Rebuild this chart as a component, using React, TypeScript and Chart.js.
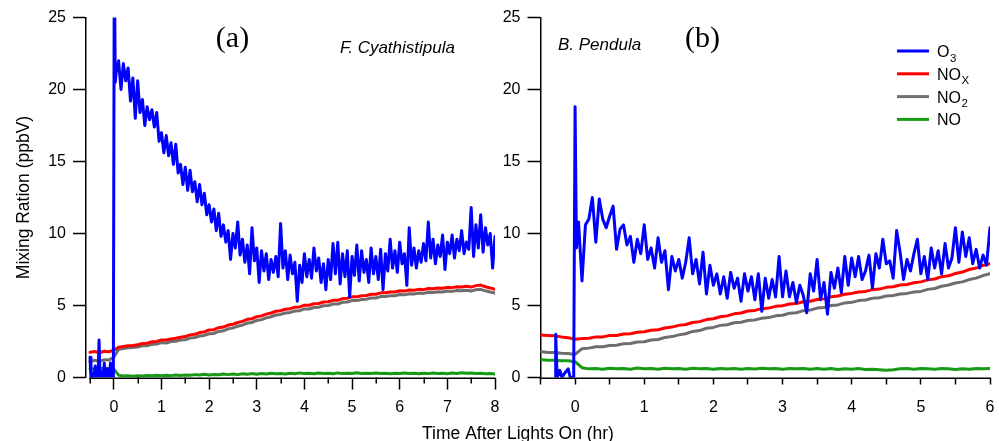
import React, { useEffect, useRef } from "react";
import { Chart, registerables } from "chart.js";

Chart.register(...registerables);

const FONT = "'Liberation Sans', Arial, Helvetica, sans-serif";
const SERIF = "'Liberation Serif', 'Times New Roman', Times, serif";

const COLOR_O3 = "#0000FF";
const COLOR_NOX = "#FF0000";
const COLOR_NO2 = "#6E6E6E";
const COLOR_NO = "#179B17";

// ---------- axis ticks ----------
const Y_TICKS = [0, 5, 10, 15, 20, 25];
const A_X_TICK_LABELS = [0, 1, 2, 3, 4, 5, 6, 7, 8];
const B_X_TICK_LABELS = [0, 1, 2, 3, 4, 5, 6];

// ---------- panel (a): F. Cyathistipula ----------
const A_O3_PRE_T = [-0.5, -0.48, -0.45, -0.42, -0.39, -0.36, -0.33, -0.31, -0.29, -0.25, -0.22, -0.2, -0.17, -0.13, -0.1, -0.07, -0.04, -0.01, 0.01, 0.03];
const A_O3_PRE = [1.4, 0, 0.3, 0, 0.8, 0, 0.2, 2.6, 0, 0.4, 0, 1.0, 0, 0.6, 0, 1.0, 0, 0, 30, 20.5];
const A_O3_START = 0.05;
const A_O3 = [
  21.2, 22.0, 20.0, 21.8, 20.6, 21.5, 19.2, 20.8, 18.0, 20.6, 18.4, 19.3, 17.5, 18.8, 17.9, 18.6, 17.4, 18.4, 16.4, 17.0,
  15.6, 16.8, 15.4, 16.3, 14.8, 16.2, 14.2, 14.8, 13.4, 14.6, 13.0, 14.4, 12.9, 13.6, 12.2, 13.4, 12.0, 12.8, 11.3, 12.0,
  10.8, 11.7, 10.2, 11.4, 9.8, 10.6, 9.4, 10.2, 8.2, 10.0, 9.0, 10.8, 8.5, 9.6, 8.0, 9.2, 7.2, 10.4, 8.1, 9.0,
  6.6, 8.8, 7.4, 8.6, 6.8, 8.2, 7.3, 8.4, 7.0, 10.7, 7.6, 8.8, 6.8, 8.5, 7.2, 8.0, 5.3, 7.8, 6.6, 8.6,
  7.0, 8.2, 6.9, 9.0, 7.4, 8.3, 6.6, 7.9, 6.1, 8.2, 6.8, 9.3, 7.2, 9.4, 6.5, 8.6, 7.0, 8.8, 5.6, 8.4,
  7.1, 9.2, 6.7, 8.8, 7.3, 8.2, 6.6, 9.0, 7.2, 8.4, 6.8, 8.9, 6.1, 8.6, 7.4, 9.6, 7.6, 8.8, 7.3, 9.4,
  7.9, 8.6, 6.4, 10.4, 7.8, 9.0, 7.6, 8.8, 8.0, 9.3, 8.1, 10.8, 8.3, 9.6, 7.9, 9.2, 8.4, 9.9, 7.5, 9.4,
  8.6, 9.9, 8.3, 9.6, 8.8, 10.2, 8.6, 9.4, 8.9, 11.8, 8.4, 10.6, 9.0, 11.3, 8.7, 10.4, 9.2, 10.0, 7.6, 9.8,
];
const A_N_START = -0.5;
const A_NOX = [
  1.75, 1.80, 1.72, 1.82, 1.79, 1.90, 2.10, 2.16, 2.20, 2.22,
  2.28, 2.36, 2.38, 2.48, 2.50, 2.60, 2.60, 2.68, 2.72, 2.80,
  2.84, 2.96, 3.00, 3.12, 3.16, 3.30, 3.32, 3.46, 3.50, 3.64,
  3.70, 3.82, 3.90, 4.04, 4.08, 4.22, 4.28, 4.40, 4.48, 4.60,
  4.64, 4.74, 4.78, 4.88, 4.90, 5.02, 5.02, 5.12, 5.14, 5.24,
  5.26, 5.36, 5.36, 5.48, 5.50, 5.60, 5.60, 5.68, 5.70, 5.78,
  5.78, 5.88, 5.88, 5.94, 5.94, 6.02, 6.00, 6.08, 6.06, 6.12,
  6.10, 6.18, 6.16, 6.22, 6.20, 6.26, 6.24, 6.30, 6.28, 6.34,
  6.28, 6.38, 6.42, 6.30, 6.22, 6.12,
];
const A_NO2 = [
  1.10, 1.20, 1.12, 1.24, 1.22, 1.40, 1.94, 2.02, 2.06, 2.08,
  2.12, 2.20, 2.20, 2.30, 2.32, 2.42, 2.40, 2.50, 2.52, 2.60,
  2.62, 2.74, 2.78, 2.88, 2.92, 3.04, 3.06, 3.20, 3.24, 3.38,
  3.44, 3.56, 3.64, 3.78, 3.82, 3.96, 4.02, 4.14, 4.22, 4.34,
  4.38, 4.48, 4.52, 4.62, 4.64, 4.76, 4.76, 4.86, 4.88, 4.98,
  5.00, 5.10, 5.10, 5.22, 5.24, 5.34, 5.34, 5.42, 5.44, 5.52,
  5.52, 5.62, 5.62, 5.68, 5.68, 5.76, 5.74, 5.82, 5.80, 5.86,
  5.84, 5.92, 5.90, 5.96, 5.94, 6.00, 5.98, 6.04, 6.02, 6.06,
  6.00, 6.10, 6.12, 6.02, 5.94, 5.86,
];
const A_NO = [
  0.62, 0.58, 0.66, 0.60, 0.64, 0.58, 0.16, 0.10, 0.12, 0.08,
  0.12, 0.10, 0.14, 0.12, 0.16, 0.12, 0.15, 0.13, 0.17, 0.14,
  0.18, 0.15, 0.20, 0.17, 0.22, 0.18, 0.21, 0.19, 0.24, 0.20,
  0.24, 0.20, 0.26, 0.22, 0.27, 0.23, 0.28, 0.24, 0.30, 0.26,
  0.28, 0.24, 0.30, 0.26, 0.32, 0.27, 0.30, 0.26, 0.31, 0.28,
  0.30, 0.26, 0.32, 0.27, 0.30, 0.28, 0.33, 0.27, 0.30, 0.28,
  0.31, 0.27, 0.30, 0.26, 0.29, 0.27, 0.31, 0.28, 0.30, 0.26,
  0.29, 0.27, 0.32, 0.28, 0.30, 0.26, 0.31, 0.28, 0.33, 0.29,
  0.31, 0.27, 0.30, 0.26, 0.28, 0.25,
];

// ---------- panel (b): B. Pendula ----------
const B_O3_PRE_T = [-0.5, -0.29, -0.28, -0.26, -0.22, -0.19, -0.15, -0.1, -0.07, -0.02, 0.0, 0.02];
const B_O3_PRE = [-1, -1, 3.0, 0, 0.5, 0, 0.3, 0.6, 0, 0, 18.8, 9.0];
const B_O3_START = 0.05;
const B_O3 = [
  10.8, 6.7, 10.6, 11.0, 12.5, 9.4, 12.4, 11.0, 10.4, 11.2, 11.9, 8.9, 10.3, 10.6, 9.2, 9.8, 8.0, 9.6, 8.6, 10.6,
  8.2, 9.0, 7.6, 9.7, 8.0, 8.8, 6.1, 8.4, 7.4, 8.2, 6.9, 8.0, 9.7, 7.2, 8.2, 6.5, 8.7, 5.8, 7.8, 6.4,
  7.2, 5.8, 7.0, 5.5, 7.3, 6.2, 6.9, 5.3, 7.2, 6.0, 7.0, 5.4, 7.2, 4.6, 6.9, 5.5, 6.8, 5.6, 8.4, 5.6,
  7.4, 5.6, 6.6, 5.2, 6.4, 5.7, 4.5, 7.2, 6.0, 8.2, 5.4, 6.6, 4.4, 7.3, 6.2, 7.6, 5.9, 8.4, 6.4, 8.3,
  7.0, 8.4, 6.8, 7.4, 8.5, 6.2, 8.6, 7.6, 9.6, 7.9, 8.1, 6.9, 10.2, 8.7, 6.8, 8.2, 7.4, 8.6, 9.6, 7.2,
  8.4, 6.8, 9.0, 7.6, 8.8, 7.2, 9.3, 7.6, 8.3, 10.4, 8.0, 10.1, 8.4, 9.7, 7.9, 8.9, 7.6, 8.5, 7.8, 10.4,
];
const B_N_START = -0.5;
const B_NOX = [
  2.95, 2.92, 2.90, 2.82, 2.76, 2.66, 2.70, 2.72, 2.82, 2.82,
  2.92, 2.92, 3.02, 3.04, 3.14, 3.18, 3.28, 3.32, 3.44, 3.50,
  3.62, 3.68, 3.82, 3.88, 4.02, 4.08, 4.22, 4.28, 4.42, 4.48,
  4.62, 4.66, 4.78, 4.82, 4.94, 4.98, 5.10, 5.14, 5.26, 5.30,
  5.42, 5.46, 5.60, 5.66, 5.78, 5.84, 5.94, 5.98, 6.10, 6.14,
  6.26, 6.30, 6.42, 6.46, 6.58, 6.64, 6.78, 6.84, 7.00, 7.06,
  7.22, 7.32, 7.50, 7.60, 7.78, 7.90,
];
const B_NO2 = [
  1.80, 1.74, 1.74, 1.68, 1.66, 1.60, 2.00, 2.04, 2.14, 2.14,
  2.22, 2.24, 2.34, 2.36, 2.46, 2.48, 2.60, 2.64, 2.78, 2.84,
  2.96, 3.04, 3.20, 3.26, 3.42, 3.48, 3.62, 3.66, 3.80, 3.84,
  3.96, 4.00, 4.12, 4.16, 4.28, 4.32, 4.46, 4.50, 4.64, 4.68,
  4.82, 4.86, 5.00, 5.04, 5.18, 5.22, 5.34, 5.38, 5.50, 5.54,
  5.66, 5.70, 5.80, 5.84, 5.94, 5.98, 6.12, 6.18, 6.34, 6.42,
  6.56, 6.64, 6.80, 6.90, 7.08, 7.20,
];
const B_NO = [
  1.25, 1.20, 1.20, 1.16, 1.16, 1.10, 0.68, 0.60, 0.62, 0.58,
  0.64, 0.60, 0.62, 0.58, 0.66, 0.60, 0.62, 0.58, 0.64, 0.60,
  0.62, 0.58, 0.64, 0.60, 0.62, 0.58, 0.63, 0.59, 0.62, 0.58,
  0.62, 0.59, 0.64, 0.60, 0.62, 0.58, 0.62, 0.60, 0.63, 0.58,
  0.62, 0.58, 0.62, 0.56, 0.60, 0.58, 0.62, 0.56, 0.58, 0.54,
  0.50, 0.54, 0.60, 0.62, 0.58, 0.62, 0.60, 0.58, 0.62, 0.60,
  0.56, 0.60, 0.58, 0.62, 0.60, 0.62,
];

const FINE_STEP = 0.05;
const COARSE_STEP = 0.1;

// ---------- texts ----------
const Y_TITLE = "Mixing Ration (ppbV)";
const X_TITLE = "Time After Lights On (hr)";
const A_TAG = "(a)";
const B_TAG = "(b)";
const A_NAME = "F. Cyathistipula";
const B_NAME = "B. Pendula";
const LEGEND_ITEMS = [
  { base: "O", sub: "3", color: COLOR_O3 },
  { base: "NO", sub: "X", color: COLOR_NOX },
  { base: "NO", sub: "2", color: COLOR_NO2 },
  { base: "NO", sub: "", color: COLOR_NO },
];

type Pt = { x: number; y: number };
const seq = (start: number, step: number, vals: number[]): Pt[] =>
  vals.map((y, i) => ({ x: Math.round((start + i * step) * 1000) / 1000, y }));
const pairs = (ts: number[], vs: number[]): Pt[] => ts.map((x, i) => ({ x, y: vs[i] }));

function lineDs(label: string, data: Pt[], color: string, width: number) {
  return {
    label,
    data,
    borderColor: color,
    backgroundColor: color,
    borderWidth: width,
    pointRadius: 0,
    pointHoverRadius: 0,
    tension: 0,
    fill: false,
    borderJoinStyle: "round" as const,
    borderCapStyle: "round" as const,
  };
}

type PanelOpts = {
  xMin: number;
  xMax: number;
  tickMin: number;
  labels: number[];
  yWidth: number;
  padRight: number;
  majorLen: number;
  minorLen: number;
  labelPad: number;
  extra: (chart: any) => void;
};

function buildConfig(datasets: any[], p: PanelOpts): any {
  const isMinor = (v: number) => !p.labels.includes(v);
  return {
    type: "line",
    data: { datasets },
    options: {
      responsive: false,
      maintainAspectRatio: false,
      animation: false,
      devicePixelRatio: 1,
      events: [],
      layout: { padding: { left: 0, right: p.padRight, top: 17.5, bottom: 0 }, autoPadding: false },
      plugins: { legend: { display: false }, tooltip: { enabled: false }, title: { display: false } },
      scales: {
        x: {
          type: "linear",
          min: p.xMin,
          max: p.xMax,
          afterBuildTicks: (s: any) => {
            const t: any[] = [];
            for (let v = p.tickMin; v <= p.xMax + 1e-9; v += 0.5) t.push({ value: v });
            s.ticks = t;
          },
          afterFit: (s: any) => {
            s.height = 63.5;
            s.paddingLeft = 0;
            s.paddingRight = 0;
            s.paddingTop = 0;
            s.paddingBottom = 0;
          },
          border: { display: false },
          grid: {
            drawOnChartArea: false,
            drawTicks: true,
            tickLength: p.majorLen,
            tickWidth: 1.5,
            tickColor: (c: any) =>
              p.minorLen > 0 && c.tick && isMinor(c.tick.value) ? "rgba(0,0,0,0)" : "#000",
          },
          ticks: {
            autoSkip: false,
            maxRotation: 0,
            minRotation: 0,
            padding: p.labelPad,
            color: "#000",
            font: { family: FONT, size: 16 },
            callback: (v: number) => (p.labels.includes(v) ? String(v) : ""),
          },
        },
        y: {
          type: "linear",
          min: 0,
          max: 25,
          afterBuildTicks: (s: any) => {
            s.ticks = Y_TICKS.map((v) => ({ value: v }));
          },
          afterFit: (s: any) => {
            s.width = p.yWidth;
            s.paddingLeft = 0;
            s.paddingRight = 0;
            s.paddingTop = 0;
            s.paddingBottom = 0;
          },
          border: { display: true, color: "#000", width: 1.5 },
          grid: { drawOnChartArea: false, drawTicks: true, tickLength: 13, tickWidth: 1.5, tickColor: "#000" },
          ticks: {
            padding: 7,
            color: "#000",
            font: { family: FONT, size: 16 },
            callback: (v: number) => String(v),
          },
        },
      },
    },
    plugins: [
      {
        id: "decor",
        afterDraw(chart: any) {
          const { ctx, chartArea } = chart;
          const xs = chart.scales.x;
          ctx.save();
          ctx.strokeStyle = "#000";
          ctx.lineWidth = 1.5;
          ctx.beginPath();
          ctx.moveTo(xs.getPixelForValue(p.tickMin) - 0.75, chartArea.bottom + 0.75);
          ctx.lineTo(chartArea.right + 0.75, chartArea.bottom + 0.75);
          ctx.stroke();
          if (p.minorLen > 0) {
            for (let v = p.tickMin; v <= p.xMax + 1e-9; v += 0.5) {
              if (!isMinor(v)) continue;
              const px = Math.round(xs.getPixelForValue(v)) + 0.25;
              ctx.beginPath();
              ctx.moveTo(px, chartArea.bottom);
              ctx.lineTo(px, chartArea.bottom + p.minorLen);
              ctx.stroke();
            }
          }
          ctx.restore();
          p.extra(chart);
        },
      },
    ],
  };
}

function drawLeftTexts(chart: any) {
  const ctx = chart.ctx as CanvasRenderingContext2D;
  ctx.save();
  ctx.fillStyle = "#000";
  ctx.save();
  ctx.translate(24, 197.5);
  ctx.rotate(-Math.PI / 2);
  ctx.font = `17.5px ${FONT}`;
  ctx.textAlign = "center";
  ctx.textBaseline = "middle";
  ctx.fillText(Y_TITLE, 0, 0);
  ctx.restore();
  ctx.font = `17.5px ${FONT}`;
  ctx.textAlign = "center";
  ctx.textBaseline = "alphabetic";
  ctx.fillText(X_TITLE, 518, 438.5);
  ctx.font = `30px ${SERIF}`;
  ctx.fillText(A_TAG, 232.5, 47);
  ctx.font = `italic 17px ${FONT}`;
  ctx.textAlign = "left";
  ctx.fillText(A_NAME, 340, 53);
  ctx.restore();
}

function drawRightTexts(chart: any) {
  const ctx = chart.ctx as CanvasRenderingContext2D;
  ctx.save();
  ctx.fillStyle = "#000";
  ctx.textBaseline = "alphabetic";
  ctx.font = `30px ${SERIF}`;
  ctx.textAlign = "center";
  ctx.fillText(B_TAG, 702.5, 47);
  ctx.font = `italic 17px ${FONT}`;
  ctx.textAlign = "left";
  ctx.fillText(B_NAME, 558, 50);
  LEGEND_ITEMS.forEach((it, i) => {
    const y = 51 + i * 22.8;
    ctx.strokeStyle = it.color;
    ctx.lineWidth = 3;
    ctx.beginPath();
    ctx.moveTo(897, y);
    ctx.lineTo(929, y);
    ctx.stroke();
    ctx.fillStyle = "#000";
    ctx.font = `16px ${FONT}`;
    ctx.fillText(it.base, 937, y + 6);
    if (it.sub) {
      const w = ctx.measureText(it.base).width;
      ctx.font = `11.5px ${FONT}`;
      ctx.fillText(it.sub, 937 + w + 0.5, y + 10.5);
    }
  });
  ctx.restore();
}

export default function App() {
  const leftRef = useRef<HTMLCanvasElement>(null);
  const rightRef = useRef<HTMLCanvasElement>(null);

  useEffect(() => {
    const aData = [
      lineDs("O3", [...pairs(A_O3_PRE_T, A_O3_PRE), ...seq(A_O3_START, FINE_STEP, A_O3)], COLOR_O3, 3),
      lineDs("NOx", seq(A_N_START, COARSE_STEP, A_NOX), COLOR_NOX, 3),
      lineDs("NO2", seq(A_N_START, COARSE_STEP, A_NO2), COLOR_NO2, 3),
      lineDs("NO", seq(A_N_START, COARSE_STEP, A_NO), COLOR_NO, 3),
    ];
    const bData = [
      lineDs("O3", [...pairs(B_O3_PRE_T, B_O3_PRE), ...seq(B_O3_START, FINE_STEP, B_O3)], COLOR_O3, 3),
      lineDs("NOx", seq(B_N_START, COARSE_STEP, B_NOX), COLOR_NOX, 3),
      lineDs("NO2", seq(B_N_START, COARSE_STEP, B_NO2), COLOR_NO2, 3),
      lineDs("NO", seq(B_N_START, COARSE_STEP, B_NO), COLOR_NO, 3),
    ];
    const a = new Chart(
      leftRef.current!,
      buildConfig(aData, {
        xMin: -0.584,
        xMax: 8,
        tickMin: -0.5,
        labels: A_X_TICK_LABELS,
        yWidth: 86,
        padRight: 504,
        majorLen: 12,
        minorLen: 6,
        labelPad: 8,
        extra: drawLeftTexts,
      })
    );
    const b = new Chart(
      rightRef.current!,
      buildConfig(bData, {
        xMin: -0.5,
        xMax: 6,
        tickMin: -0.5,
        labels: B_X_TICK_LABELS,
        yWidth: 540.5,
        padRight: 9,
        majorLen: 7,
        minorLen: 0,
        labelPad: 13,
        extra: drawRightTexts,
      })
    );
    return () => {
      a.destroy();
      b.destroy();
    };
  }, []);

  const canvasStyle: React.CSSProperties = { position: "absolute", left: 0, top: 0, width: 999, height: 441 };
  return (
    <div style={{ position: "absolute", left: 0, top: 0, width: 999, height: 441, background: "#fff", overflow: "hidden" }}>
      <canvas ref={leftRef} width={999} height={441} style={canvasStyle} />
      <canvas ref={rightRef} width={999} height={441} style={canvasStyle} />
    </div>
  );
}
